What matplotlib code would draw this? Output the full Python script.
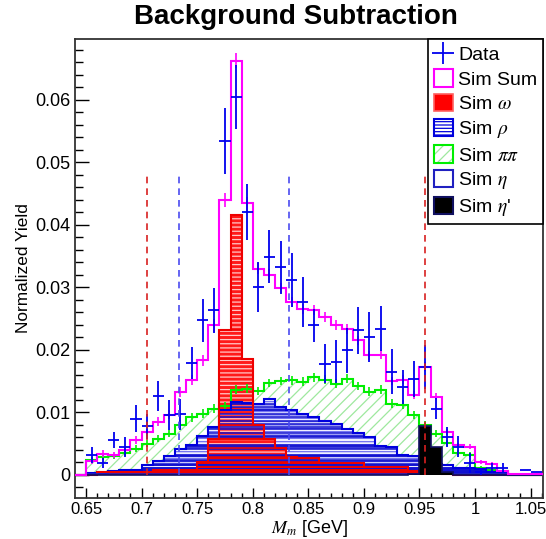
import numpy as np
import matplotlib.pyplot as plt
from matplotlib.patches import Patch
from matplotlib.lines import Line2D
from matplotlib.ticker import MultipleLocator

plt.rcParams['font.family'] = ['Liberation Sans', 'DejaVu Sans']
plt.rcParams['mathtext.fontset'] = 'stix'
plt.rcParams['hatch.linewidth'] = 0.9

# 10 MeV bins from 0.64 to 1.06 GeV
bin_lo = 0.64
bin_w = 0.01

data_y = [np.nan, 0.0032, 0.0019, 0.0056, 0.0045, 0.0090, 0.0078, 0.0126, 0.0096, 0.0097,
          0.0179, 0.0247, 0.0263, 0.0534, 0.0604, 0.0420, 0.0300, 0.0349, 0.0332, 0.0312,
          0.0276, 0.0239, 0.0178, 0.0181, 0.0199, 0.0231, 0.0221, 0.0234, 0.0165, 0.0141,
          0.0153, 0.0173, 0.0106, 0.0061, 0.0045, 0.0019, 0.0005, 0.0011, 0.0011, np.nan,
          0.0008, 0.0004]
data_err = [np.nan, 0.0013, 0.0008, 0.0013, 0.0016, 0.0021, 0.0020, 0.0024, 0.0024, 0.0025,
            0.0025, 0.0034, 0.0036, 0.0053, 0.0051, 0.0045, 0.0040, 0.0042, 0.0042, 0.0043,
            0.0040, 0.0027, 0.0031, 0.0034, 0.0036, 0.0037, 0.0040, 0.0036, 0.0036, 0.0027,
            0.0029, 0.0035, 0.0017, 0.0016, 0.0017, 0.0016, 0.0006, 0.0008, 0.0008, np.nan,
            0.0, 0.0]

sim_sum = [0.0, 0.0022, 0.0034, 0.0032, 0.0040, 0.0056, 0.0068, 0.0085, 0.0096, 0.0133,
           0.0152, 0.0183, 0.0239, 0.0439, 0.0662, 0.0434, 0.0330, 0.0320, 0.0299, 0.0277,
           0.0266, 0.0263, 0.0252, 0.0240, 0.0234, 0.0215, 0.0191, 0.0192, 0.0150, 0.0152,
           0.0128, 0.0173, 0.0125, 0.0069, 0.0047, 0.0045, 0.0020, 0.0018, 0.0006, 0.0002,
           0.0002, 0.0002]
sum_err = [0.0, 0.0004, 0.0005, 0.0005, 0.0005, 0.0006, 0.0006, 0.0007, 0.0007, 0.0008,
           0.0008, 0.0009, 0.0010, 0.0011, 0.0012, 0.0011, 0.0009, 0.0009, 0.0008, 0.0008,
           0.0008, 0.0008, 0.0008, 0.0008, 0.0008, 0.0007, 0.0007, 0.0007, 0.0007, 0.0007,
           0.0006, 0.0007, 0.0006, 0.0005, 0.0004, 0.0004, 0.0003, 0.0003, 0.0002, 0.0001,
           0.0001, 0.0001]

omega = [0.0, 0.0, 0.0004, 0.0004, 0.0004, 0.0004, 0.0004, 0.0008, 0.0008, 0.0008,
         0.0008, 0.0021, 0.0057, 0.0231, 0.0415, 0.0186, 0.0080, 0.0057, 0.0043, 0.0029,
         0.0027, 0.0027, 0.0019, 0.0019, 0.0019, 0.0019, 0.0013, 0.0013, 0.0013, 0.0013,
         0.0006, 0.0003, 0.0003, 0.0002, 0.0, 0.0, 0.0, 0.0, 0.0, 0.0,
         0.0, 0.0]

rho = [0.0, 0.0003, 0.0003, 0.0006, 0.0008, 0.0008, 0.0015, 0.0022, 0.0030, 0.0041,
       0.0048, 0.0062, 0.0076, 0.0104, 0.0117, 0.0115, 0.0114, 0.0121, 0.0108, 0.0104,
       0.0098, 0.0092, 0.0086, 0.0081, 0.0074, 0.0067, 0.0060, 0.0046, 0.0044, 0.0031,
       0.0030, 0.0024, 0.0018, 0.0015, 0.0011, 0.0011, 0.0010, 0.0005, 0.0005, 0.0,
       0.0, 0.0]

pipi = [0.0, 0.0024, 0.0028, 0.0030, 0.0035, 0.0042, 0.0050, 0.0058, 0.0066, 0.0080,
        0.0092, 0.0098, 0.0106, 0.0110, 0.0136, 0.0138, 0.0134, 0.0147, 0.0150, 0.0151,
        0.0149, 0.0156, 0.0152, 0.0146, 0.0154, 0.0142, 0.0133, 0.0136, 0.0114, 0.0112,
        0.0096, 0.0080, 0.0066, 0.0051, 0.0035, 0.0032, 0.0011, 0.0008, 0.0006, 0.0,
        0.0, 0.0]
pipi_err = [0.0, 0.0004, 0.0004, 0.0004, 0.0005, 0.0005, 0.0006, 0.0006, 0.0006, 0.0007,
            0.0007, 0.0007, 0.0007, 0.0007, 0.0007, 0.0007, 0.0007, 0.0007, 0.0007, 0.0007,
            0.0007, 0.0007, 0.0007, 0.0007, 0.0007, 0.0007, 0.0007, 0.0007, 0.0007, 0.0007,
            0.0006, 0.0006, 0.0005, 0.0005, 0.0004, 0.0004, 0.0003, 0.0003, 0.0002, 0.0,
            0.0, 0.0]

eta = [0.0, 0.0001, 0.0001, 0.0001, 0.0001, 0.0001, 0.0001, 0.0002, 0.0002, 0.0002,
       0.0002, 0.0002, 0.0002, 0.0002, 0.0002, 0.0002, 0.0002, 0.0002, 0.0002, 0.0002,
       0.0002, 0.0002, 0.0002, 0.0002, 0.0002, 0.0002, 0.0002, 0.0002, 0.0002, 0.0002,
       0.0002, 0.0002, 0.0002, 0.0001, 0.0001, 0.0001, 0.0001, 0.0001, 0.0, 0.0,
       0.0, 0.0]

eta_prime = [0.0, 0.0, 0.0, 0.0, 0.0, 0.0, 0.0, 0.0, 0.0, 0.0,
             0.0, 0.0, 0.0, 0.0, 0.0, 0.0, 0.0, 0.0, 0.0, 0.0,
             0.0, 0.0, 0.0, 0.0, 0.0, 0.0, 0.0, 0.0, 0.0, 0.0,
             0.0002, 0.0078, 0.0044, 0.0005, 0.0, 0.0, 0.0, 0.0, 0.0, 0.0,
             0.0, 0.0]

red_cuts = [0.705, 0.955]
blue_cuts = [0.7335, 0.833]
cut_top = 0.0484

edges = bin_lo + bin_w * np.arange(len(sim_sum) + 1)
centers = edges[:-1] + bin_w / 2


def layer_lines(ax, vals, color, lw):
    # ROOT-like nested outlines: one level line per bin height
    v = np.asarray(vals)
    for i, h in enumerate(v):
        if h <= 0:
            continue
        a = i
        while a > 0 and v[a - 1] >= h:
            a -= 1
        b = i
        while b < len(v) - 1 and v[b + 1] >= h:
            b += 1
        ax.hlines(h, edges[a], edges[b + 1], color=color, lw=lw, zorder=4)


fig = plt.figure(figsize=(5.46, 5.39), dpi=100)
ax = fig.add_axes([75 / 546, 1 - 498 / 539, 468 / 546, 459 / 539])

# pi pi
ax.stairs(pipi, edges, fill=True, facecolor='white', edgecolor='#9ee89e', hatch='///', lw=0, zorder=2)
ax.stairs(pipi, edges, color='#00ee00', lw=1.5, zorder=5)
ax.errorbar(centers, pipi, yerr=pipi_err, fmt='none', ecolor='#00ee00', elinewidth=1.2, zorder=5)

# rho
ax.stairs(rho, edges, fill=True, facecolor='#f0f0ff', edgecolor='#7070f0', hatch='-----', lw=0, zorder=3)
layer_lines(ax, rho, '#1010d0', 1.1)
ax.stairs(rho, edges, color='#0000dd', lw=1.5, zorder=5)

# omega
ax.stairs(omega, edges, fill=True, facecolor='#ff1a1a', edgecolor='#ffc8c8', hatch='----', lw=0, zorder=3.5)
layer_lines(ax, omega, '#ee0000', 1.1)
ax.stairs(omega, edges, color='#ee0000', lw=1.5, zorder=5)

# eta, eta'
ax.stairs(eta, edges, color='#2020c0', lw=1.2, zorder=5)
ax.stairs(eta_prime, edges, fill=True, facecolor='black', edgecolor='#101060', lw=1.2, zorder=6)

# sum
ax.stairs(sim_sum, edges, color='#ff00ff', lw=1.5, zorder=6)
ax.errorbar(centers, sim_sum, yerr=sum_err, fmt='none', ecolor='#ff00ff', elinewidth=1.2, zorder=6)

# data
ax.errorbar(centers, data_y, yerr=data_err, xerr=bin_w / 2, fmt='none', ecolor='#0000ee',
            elinewidth=1.3, capsize=0, zorder=7)

ax.vlines(red_cuts, 0, cut_top, colors='#d82020', linestyles=(0, (4, 3)), lw=1.2, zorder=8)
ax.vlines(blue_cuts, 0, cut_top, colors='#4a4af0', linestyles=(0, (4, 3)), lw=1.2, zorder=8)

ax.set_xlim(0.6401, 1.0611)
ax.set_ylim(-0.0037, 0.0697)
ax.xaxis.set_minor_locator(MultipleLocator(0.01))
ax.yaxis.set_minor_locator(MultipleLocator(0.002))
ax.set_xticks(np.arange(0.65, 1.051, 0.05))
ax.set_xticklabels(['0.65', '0.7', '0.75', '0.8', '0.85', '0.9', '0.95', '1', '1.05'])
ax.set_yticks(np.arange(0, 0.061, 0.01))
ax.set_yticklabels(['0', '0.01', '0.02', '0.03', '0.04', '0.05', '0.06'])
ax.tick_params(axis='x', which='major', direction='in', length=7, width=1, labelsize=12, pad=3)
ax.tick_params(axis='x', which='minor', direction='in', length=3.5, width=1)
ax.tick_params(axis='y', which='major', direction='in', length=10, width=1, labelsize=13, pad=3)
ax.tick_params(axis='y', which='minor', direction='in', length=5.5, width=1)
for s in ax.spines.values():
    s.set_linewidth(1.3)
    s.set_color('#333333')

ax.set_ylabel('Normalized Yield', fontsize=12.4)
ax.yaxis.set_label_coords(-0.095, 0.5)
ax.set_xlabel(r'$\mathit{M_{m}}$ [GeV]', fontsize=13)
ax.xaxis.set_label_coords(0.5, -0.067)
ax.xaxis.label.set_va('center')

fig.text(296 / 546, 1 - 17 / 539, 'Background Subtraction', ha='center', va='center',
         fontsize=20, fontweight='bold')

handles = [
    Line2D([], [], color='#0000ee', marker='+', ms=16, mew=1.3, ls='none'),
    Patch(facecolor='white', edgecolor='#ff00ff', lw=1.5),
    Patch(facecolor='#ff0000', edgecolor='#ff6060', lw=1.2),
    Patch(facecolor='white', edgecolor='#0000dd', hatch='-----', lw=1.5),
    (Patch(facecolor='white', edgecolor='#9ee89e', hatch='///', lw=0),
     Patch(facecolor='none', edgecolor='#00ee00', lw=1.5)),
    Patch(facecolor='white', edgecolor='#2020c0', lw=1.5),
    Patch(facecolor='black', edgecolor='#101060', lw=1.5),
]
labels = ['Data', 'Sim Sum', r'Sim $\omega$', r'Sim $\rho$', r'Sim $\pi\pi$', r'Sim $\eta$',
          r"Sim $\eta$'"]
leg = ax.legend(handles, labels, loc='upper right', bbox_to_anchor=(1.0, 1.0), fontsize=14,
                frameon=True, fancybox=False, edgecolor='black', framealpha=1,
                borderaxespad=0, borderpad=0.3, handlelength=1.0, handleheight=1.0,
                handletextpad=0.25, labelspacing=0.27)
leg.get_frame().set_linewidth(1.2)
leg.set_zorder(10)

fig.savefig('out.png', dpi=100)
